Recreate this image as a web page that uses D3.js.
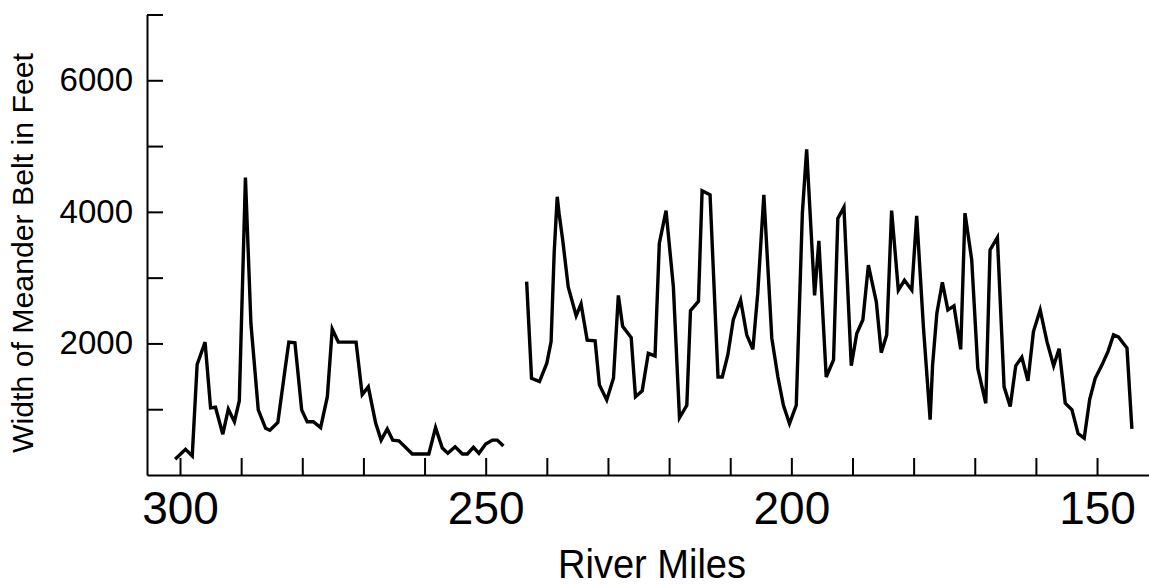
<!DOCTYPE html>
<html>
<head>
<meta charset="utf-8">
<script src="https://cdn.jsdelivr.net/npm/d3@7"></script>
<style>
  html, body { margin: 0; padding: 0; background: #fff; }
  svg { display: block; }
  text { font-family: "Liberation Sans", Arial, sans-serif; fill: #000; }
</style>
</head>
<body>
<svg id="chart" width="1149" height="586"></svg>
<script>
// Upper reach (river miles ~301 to ~247)
const reach1Miles = [300.8, 299.1, 298.0, 297.2, 295.9, 295.0, 294.2, 293.0, 292.1, 291.1, 290.3, 289.3, 288.4, 287.2, 286.0, 285.3, 284.0, 282.8, 282.2, 281.2, 280.1, 279.2, 278.2, 277.0, 275.9, 275.1, 274.1, 271.2, 270.2, 269.2, 268.0, 267.1, 266.1, 265.2, 264.2, 262.0, 259.3, 258.2, 257.1, 256.2, 255.0, 253.8, 253.0, 252.0, 251.1, 250.0, 248.9, 248.1, 247.1];
const reach1Width = [240, 390, 290, 1680, 2020, 1020, 1030, 620, 1000, 810, 1130, 4520, 2300, 990, 710, 680, 800, 1620, 2020, 2010, 990, 810, 810, 720, 1190, 2220, 2020, 2020, 1220, 1340, 790, 530, 700, 530, 520, 320, 320, 720, 410, 330, 430, 320, 320, 420, 330, 470, 530, 530, 440];

// Lower reach (river miles ~243 to ~144)
const reach2Miles = [243.3, 242.5, 241.2, 240.0, 239.3, 238.8, 238.3, 238.0, 237.4, 236.5, 235.2, 234.4, 233.4, 232.1, 231.4, 230.2, 229.1, 228.3, 227.6, 226.2, 225.5, 224.4, 223.4, 222.3, 221.6, 220.5, 219.3, 218.3, 217.1, 216.5, 215.2, 214.6, 213.3, 212.0, 211.3, 210.4, 209.5, 208.3, 207.3, 206.3, 205.5, 204.5, 203.2, 202.2, 201.3, 200.3, 199.2, 198.2, 197.5, 196.2, 195.5, 194.3, 193.1, 192.4, 191.4, 190.2, 189.3, 188.3, 187.4, 186.1, 185.3, 184.4, 183.6, 182.5, 181.5, 180.3, 179.5, 178.4, 177.3, 176.9, 176.2, 175.3, 174.4, 173.4, 172.3, 171.6, 170.5, 169.5, 168.2, 167.5, 166.3, 165.2, 164.2, 163.3, 162.3, 161.3, 160.4, 159.3, 158.2, 157.1, 156.2, 155.2, 154.1, 153.1, 152.1, 151.2, 150.3, 149.2, 148.2, 147.3, 146.5, 145.1, 144.3];
const reach2Width = [2940, 1470, 1420, 1700, 2030, 3370, 4230, 3980, 3570, 2860, 2420, 2600, 2050, 2040, 1370, 1140, 1470, 2730, 2260, 2090, 1190, 1280, 1850, 1810, 3520, 4020, 2860, 870, 1060, 2500, 2640, 4320, 4260, 1490, 1490, 1820, 2360, 2660, 2130, 1910, 2760, 4260, 2080, 1490, 1060, 780, 1060, 3980, 4950, 2730, 3560, 1490, 1750, 3900, 4070, 1660, 2150, 2360, 3190, 2630, 1860, 2130, 4020, 2810, 2960, 2810, 3940, 2250, 840, 1670, 2460, 2930, 2510, 2570, 1910, 3980, 3270, 1620, 1090, 3420, 3610, 1340, 1040, 1660, 1790, 1430, 2180, 2510, 2030, 1660, 1920, 1090, 990, 630, 560, 1150, 1470, 1670, 1880, 2130, 2100, 1930, 700];

const xTickValues = [300, 290, 280, 270, 260, 250, 240, 230, 220, 210, 200, 190, 180, 170, 160, 150];
const xTickLabels = ["300", "250", "200", "150"];
const yTickValues = [1000, 2000, 3000, 4000, 5000, 6000, 7000];
const yTickLabels = ["2000", "4000", "6000"];

const xTitle = "River Miles";
const yTitle = "Width of Meander Belt in Feet";

const svg = d3.select("#chart");

const x = d3.scaleLinear().domain([305.4, 141.5]).range([147, 1149]);
const y = d3.scaleLinear().domain([0, 7000]).range([475, 14.5]);

// X axis
const xAxis = d3.axisBottom(x)
  .tickValues(xTickValues)
  .tickSizeInner(-17)
  .tickSizeOuter(0)
  .tickPadding(16)
  .tickFormat(d => xTickLabels.includes(String(d)) ? String(d) : "");

const gx = svg.append("g")
  .attr("transform", `translate(0,${y(0)})`)
  .call(xAxis);
gx.select(".domain").attr("stroke", "#000").attr("stroke-width", 2);
gx.selectAll(".tick line").attr("stroke", "#000").attr("stroke-width", 2);
gx.selectAll(".tick text")
  .attr("font-family", "'Liberation Sans', Arial, sans-serif")
  .attr("font-size", 46)
  .attr("fill", "#000");

// Y axis
const yAxis = d3.axisLeft(y)
  .tickValues(yTickValues)
  .tickSizeInner(-16)
  .tickSizeOuter(0)
  .tickPadding(14)
  .tickFormat(d => yTickLabels.includes(String(d)) ? String(d) : "");

const gy = svg.append("g")
  .attr("transform", `translate(${x(305.4)},0)`)
  .call(yAxis);
gy.select(".domain").attr("stroke", "#000").attr("stroke-width", 2);
gy.selectAll(".tick line").attr("stroke", "#000").attr("stroke-width", 2);
gy.selectAll(".tick text")
  .attr("font-family", "'Liberation Sans', Arial, sans-serif")
  .attr("font-size", 33)
  .attr("fill", "#000");

// Lines
const line = d3.line()
  .x(d => x(d[0]))
  .y(d => y(d[1]));

const reach1 = reach1Miles.map((m, i) => [m, reach1Width[i]]);
const reach2 = reach2Miles.map((m, i) => [m, reach2Width[i]]);

[reach1, reach2].forEach(data => {
  svg.append("path")
    .datum(data)
    .attr("fill", "none")
    .attr("stroke", "#000")
    .attr("stroke-width", 3.4)
    .attr("stroke-linejoin", "miter")
    .attr("stroke-miterlimit", 4)
    .attr("d", line);
});

// Titles
svg.append("text")
  .attr("x", 652)
  .attr("y", 578)
  .attr("text-anchor", "middle")
  .attr("font-size", 41)
  .attr("textLength", 188)
  .attr("lengthAdjust", "spacingAndGlyphs")
  .text(xTitle);

svg.append("text")
  .attr("transform", "translate(33,253) rotate(-90)")
  .attr("text-anchor", "middle")
  .attr("font-size", 29)
  .attr("textLength", 400)
  .attr("lengthAdjust", "spacingAndGlyphs")
  .text(yTitle);
</script>
</body>
</html>
